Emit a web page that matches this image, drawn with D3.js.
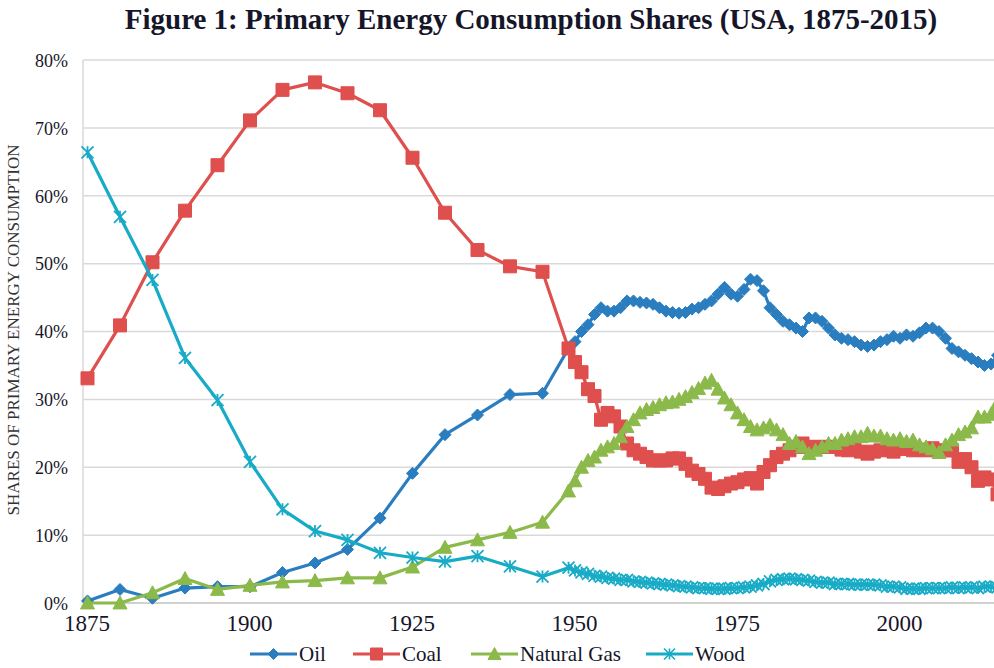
<!DOCTYPE html>
<html>
<head>
<meta charset="utf-8">
<script src="https://cdn.jsdelivr.net/npm/d3@7"></script>
<style>
  html, body { margin: 0; padding: 0; background: #fff; }
  svg { display: block; }
</style>
</head>
<body>
<svg id="chart" width="994" height="668"></svg>
<script>
// ---------------- DATA ----------------
const years = [1875,1880,1885,1890,1895,1900,1905,1910,1915,1920,1925,1930,1935,1940,1945,
  1949,1950,1951,1952,1953,1954,1955,1956,1957,1958,
  1959,1960,1961,1962,1963,1964,1965,1966,1967,1968,
  1969,1970,1971,1972,1973,1974,1975,1976,1977,1978,
  1979,1980,1981,1982,1983,1984,1985,1986,1987,1988,
  1989,1990,1991,1992,1993,1994,1995,1996,1997,1998,
  1999,2000,2001,2002,2003,2004,2005,2006,2007,2008,
  2009,2010,2011,2012,2013,2014,2015];

const oil = [0.3,2.0,0.7,2.2,2.4,2.4,4.5,5.9,7.9,12.5,19.1,24.8,27.7,30.7,30.9,
  37.5,38.5,40,41,42.5,43.5,43,43,43.5,44.5,
  44.5,44.3,44.2,44,43.5,43,42.8,42.7,42.8,43.3,
  43.5,44,44.5,45.5,46.5,45.5,45.2,46.2,47.7,47.5,
  46,43.5,42.5,41.5,41,40.5,40,42,42,41.5,
  40.5,39.5,39,38.8,38.5,38,37.8,38,38.5,38.8,
  39.3,39,39.5,39.3,39.8,40.5,40.5,40,39,37.5,
  37,36.5,36,35.5,35,35.2,36.5];

const coal = [33.1,40.9,50.2,57.8,64.5,71.1,75.6,76.7,75.1,72.6,65.6,57.5,52.0,49.6,48.8,
  37.5,35.5,34,31.5,30.5,27,28,27.5,26,23.5,
  22.5,22,21.5,21,21,21,21.3,21.3,20.5,19.5,
  19,18.3,17,16.8,17.2,17.6,17.8,18.2,18.4,17.6,
  19.3,20.3,21.5,22,22.5,23,23.5,23,23,23,
  23,23,22.6,22.5,22.8,22.3,22,22.3,22.5,22.6,
  22.3,22.8,22.7,22.5,22.6,22.5,22.8,22.3,22.5,22.5,
  20.8,21.2,20,18,18.5,18.2,16];

const gas = [0,0,1.5,3.6,2.0,2.6,3.1,3.3,3.7,3.7,5.3,8.2,9.3,10.4,11.9,
  16.5,18,20,21,21.5,22.5,23,23.5,24.5,26,
  27,28,28.5,28.8,29.2,29.5,29.6,30,30.4,31,
  31.6,32.4,32.8,31.5,30.2,29.2,28,27,26,25.5,
  25.8,26.2,25.5,24.8,23.5,23.8,23,22,22.5,23,
  23.5,23.5,24,24.2,24.5,24.5,25,24.6,24.6,24.2,
  24,24.2,23.8,24,23.3,23,22.7,22.2,23.3,24,
  24.8,25.2,25.8,27.4,27.4,27.8,29.5];

const wood = [66.4,56.9,47.6,36.1,29.9,20.8,13.8,10.6,9.3,7.4,6.7,6.1,6.9,5.4,3.9,
  5.2,4.8,4.5,4.3,4.0,3.9,3.7,3.6,3.4,3.4,
  3.2,3.1,3.0,2.9,2.8,2.7,2.6,2.5,2.4,2.3,
  2.2,2.2,2.1,2.1,2.1,2.2,2.2,2.3,2.4,2.6,
  2.8,3.2,3.4,3.5,3.6,3.5,3.4,3.3,3.1,3.0,
  3.0,2.8,2.8,2.8,2.7,2.7,2.7,2.7,2.6,2.4,
  2.4,2.3,2.1,2.1,2.1,2.2,2.2,2.2,2.2,2.3,
  2.2,2.3,2.3,2.2,2.4,2.4,2.3];

const seriesNames = ["Oil", "Coal", "Natural Gas", "Wood"];
const xTicks = [1875, 1900, 1925, 1950, 1975, 2000];
const yTicks = [0, 10, 20, 30, 40, 50, 60, 70, 80];
const titleText = "Figure 1: Primary Energy Consumption Shares (USA, 1875-2015)";
const yTitle = "SHARES OF PRIMARY ENERGY CONSUMPTION";

// ---------------- STYLE ----------------
const colors = {"Oil": "#2a7dbf", "Coal": "#de4f4d", "Natural Gas": "#8bba4a", "Wood": "#17abc6"};
const shapes = {"Oil": "diamond", "Coal": "square", "Natural Gas": "triangle", "Wood": "star"};
const textColor = "#16162a";
const serif = "Liberation Serif";

const svg = d3.select("#chart");
const plotLeft = 83, plotTop = 60, plotBottom = 603, plotRight = 1000;

const x = d3.scaleLinear().domain([1875, 2015]).range([87.5, 997.5]);
const y = d3.scaleLinear().domain([0, 80]).range([plotBottom, plotTop]);

// title
svg.append("text")
  .attr("x", 531).attr("y", 29)
  .attr("text-anchor", "middle")
  .style("font-family", serif).attr("font-weight", "bold")
  .attr("font-size", 29).attr("fill", textColor)
  .text(titleText);

// gridlines
svg.append("g").selectAll("line").data(yTicks.filter(d => d > 0)).join("line")
  .attr("x1", plotLeft).attr("x2", plotRight)
  .attr("y1", d => y(d)).attr("y2", d => y(d))
  .attr("stroke", "#d9d9d9").attr("stroke-width", 1.5);

// axes lines
svg.append("line").attr("x1", plotLeft).attr("x2", plotLeft)
  .attr("y1", plotTop).attr("y2", plotBottom)
  .attr("stroke", "#d9d9d9").attr("stroke-width", 1.5);
svg.append("line").attr("x1", plotLeft).attr("x2", plotRight)
  .attr("y1", plotBottom).attr("y2", plotBottom)
  .attr("stroke", "#d0d0d0").attr("stroke-width", 2);

// y axis via d3 axis
const yAxis = d3.axisLeft(y).tickValues(yTicks).tickFormat(d => d + "%").tickSize(0).tickPadding(0);
const gy = svg.append("g").attr("transform", `translate(68,0)`).call(yAxis);
gy.select(".domain").remove();
gy.attr("font-family", null);
gy.selectAll("text").style("font-family", serif).attr("font-size", 18).attr("fill", textColor).attr("dy", "0.35em");

// x axis
const xAxis = d3.axisBottom(x).tickValues(xTicks).tickFormat(d3.format("d")).tickSize(0).tickPadding(0);
const gx = svg.append("g").attr("transform", `translate(-1,${plotBottom + 12})`).call(xAxis);
gx.select(".domain").remove();
gx.attr("font-family", null);
gx.selectAll("text").style("font-family", serif).attr("font-size", 23).attr("fill", textColor).attr("dy", "0.71em");

// y title
svg.append("text")
  .attr("transform", `translate(19,330) rotate(-90)`)
  .attr("text-anchor", "middle")
  .style("font-family", serif).attr("font-size", 17).attr("fill", "#333")
  .text(yTitle);

// marker path generator
function markerPath(shape, s) {
  const h = s / 2;
  switch (shape) {
    case "diamond": return `M0,${-h}L${h},0L0,${h}L${-h},0Z`;
    case "square": return `M${-h},${-h}H${h}V${h}H${-h}Z`;
    case "triangle": return `M0,${-h}L${h},${h*0.85}L${-h},${h*0.85}Z`;
    case "star": return `M${-h},${-h}L${h},${h}M${h},${-h}L${-h},${h}M0,${-h}V${h}`;
  }
}
const markerSize = {"diamond": 12, "square": 13, "triangle": 14, "star": 12};

const allSeries = [
  {name: "Oil", values: oil},
  {name: "Coal", values: coal},
  {name: "Natural Gas", values: gas},
  {name: "Wood", values: wood}
];

svg.append("defs").append("clipPath").attr("id", "clip")
  .append("rect").attr("x", 0).attr("y", 0).attr("width", 994).attr("height", 620);

const plot = svg.append("g").attr("clip-path", "url(#clip)");
const line = d3.line().x(d => x(d[0])).y(d => y(d[1]));

allSeries.forEach(s => {
  const pts = years.map((yr, i) => [yr, s.values[i]]);
  const col = colors[s.name];
  const shape = shapes[s.name];
  const g = plot.append("g");
  g.append("path").datum(pts).attr("d", line)
    .attr("fill", "none").attr("stroke", col).attr("stroke-width", 3.2)
    .attr("stroke-linejoin", "round");
  g.selectAll("path.m").data(pts).join("path").attr("class", "m")
    .attr("transform", d => `translate(${x(d[0])},${y(d[1])})`)
    .attr("d", markerPath(shape, markerSize[shape]))
    .attr("fill", shape === "star" ? "none" : col)
    .attr("stroke", col)
    .attr("stroke-width", shape === "star" ? 1.8 : 1);
});

// legend
const legendItems = [
  {name: "Oil", lx: 250},
  {name: "Coal", lx: 353},
  {name: "Natural Gas", lx: 471},
  {name: "Wood", lx: 646}
];
const ly = 654;
legendItems.forEach(it => {
  const col = colors[it.name];
  const shape = shapes[it.name];
  const g = svg.append("g");
  g.append("line").attr("x1", it.lx).attr("x2", it.lx + 47).attr("y1", ly).attr("y2", ly)
    .attr("stroke", col).attr("stroke-width", 3.2);
  g.append("path").attr("transform", `translate(${it.lx + 23.5},${ly})`)
    .attr("d", markerPath(shape, markerSize[shape] - 1))
    .attr("fill", shape === "star" ? "none" : col).attr("stroke", col)
    .attr("stroke-width", shape === "star" ? 1.6 : 1);
  g.append("text").attr("x", it.lx + 49).attr("y", ly + 7)
    .style("font-family", serif).attr("font-size", 21).attr("fill", textColor)
    .text(it.name);
});
</script>
</body>
</html>
